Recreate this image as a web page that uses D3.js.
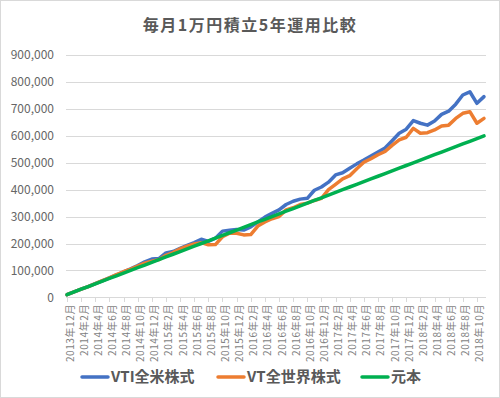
<html>
<head>
<meta charset="utf-8">
<title>毎月1万円積立5年運用比較</title>
<script src="https://cdn.jsdelivr.net/npm/d3@7"></script>
<style>
  body { margin: 0; background: #fff; }
  text { font-family: "Noto Sans CJK JP", "Noto Sans", sans-serif; fill: #595959; }
</style>
</head>
<body>
<script>
// data (yen), months 2013-12 .. 2018-11
var months = [];
for (var k = 0; k < 60; k++) {
  var m = (11 + k) % 12 + 1, y = 2013 + Math.floor((11 + k) / 12);
  months.push(y + "年" + m + "月");
}
var vti = [10,20,30,40,51,61,72,83,95,106,118,132,142,144,165,170,182,193,203,216,
           208,220,246,249,252,250,262,280,298,312,325,345,357,365,368,398,410,428,455,463,
           480,496,510,525,540,555,582,610,625,657,647,640,655,680,692,718,752,764,721,746];
var vt  = [10,20,30,40,51,62,72,84,95,105,116,127,134,140,156,166,180,190,198,203,
           195,196,225,238,238,232,233,265,280,292,300,325,333,345,350,360,368,400,420,440,
           452,478,502,515,530,542,565,585,595,628,610,612,622,637,640,665,684,690,647,665];
var principal = [10,20,30,40,50,60,70,80,90,100,110,120,130,140,150,160,170,180,190,200,
                 210,220,230,240,250,260,270,280,290,300,310,320,330,340,350,360,370,380,390,400,
                 410,420,430,440,450,460,470,480,490,500,510,520,530,540,550,560,570,580,590,600];
var seriesNames = ["VTI全米株式", "VT全世界株式", "元本"];
var seriesColors = ["#4472C4", "#ED7D31", "#00B050"];
var yTicks = [0,100000,200000,300000,400000,500000,600000,700000,800000,900000];

var w = 500, h = 398;
var svg = d3.select("body").append("svg").attr("width", w).attr("height", h);

// chart border
svg.append("rect").attr("x", 0.5).attr("y", 0.5).attr("width", w - 1).attr("height", h - 1)
   .style("fill", "#fff").style("stroke", "#d9d9d9");

// title
svg.append("text").attr("x", 250).attr("y", 31).attr("text-anchor", "middle")
   .style("font-size", "16px").style("font-weight", "bold").style("letter-spacing", "1.5px")
   .text("毎月1万円積立5年運用比較");

var x = d3.scaleLinear().domain([0, months.length - 1]).range([67, 484]);
var y = d3.scaleLinear().domain([0, 900000]).range([297.3, 55.2]);

// gridlines + y labels
svg.selectAll(".grid").data(yTicks).enter().append("line")
   .attr("x1", 66).attr("x2", 486)
   .attr("y1", function(d) { return Math.round(y(d)) + 0.5; })
   .attr("y2", function(d) { return Math.round(y(d)) + 0.5; })
   .style("stroke", "#d9d9d9").style("stroke-width", 1);

svg.selectAll(".ylab").data(yTicks).enter().append("text")
   .attr("x", 54).attr("y", function(d) { return y(d); }).attr("dy", "0.35em")
   .attr("text-anchor", "end").style("font-size", "12px").style("fill", "#666")
   .text(function(d) { return d3.format(",")(d); });

// x axis ticks and labels (every 2nd month)
var xIdx = d3.range(0, months.length, 2);
svg.selectAll(".xtick").data(xIdx).enter().append("line")
   .attr("x1", function(d) { return Math.round(x(d)) + 0.5; })
   .attr("x2", function(d) { return Math.round(x(d)) + 0.5; })
   .attr("y1", 297.5).attr("y2", 302)
   .style("stroke", "#d9d9d9");

svg.selectAll(".xlab").data(xIdx).enter().append("text")
   .attr("transform", function(d) { return "translate(" + (x(d) + 3) + ",304) rotate(-90)"; })
   .attr("dy", "0.35em").attr("text-anchor", "end")
   .style("font-size", "10px").style("letter-spacing", "0.6px").style("fill", "#7f7f7f")
   .text(function(d) { return months[d]; });

// lines
var line = d3.line().x(function(d, i) { return x(i); }).y(function(d) { return y(d * 1000); });
[vti, vt, principal].forEach(function(s, i) {
  svg.append("path").datum(s).attr("d", line)
     .style("fill", "none").style("stroke", seriesColors[i]).style("stroke-width", 3.5)
     .style("stroke-linejoin", "round").style("stroke-linecap", "round");
});

// legend
var legX = [82, 218, 362];
seriesNames.forEach(function(name, i) {
  svg.append("line").attr("x1", legX[i]).attr("x2", legX[i] + 26).attr("y1", 377).attr("y2", 377)
     .style("stroke", seriesColors[i]).style("stroke-width", 3.5).style("stroke-linecap", "round");
  svg.append("text").attr("x", legX[i] + 29).attr("y", 377).attr("dy", "0.35em")
     .style("font-size", "15px").style("font-weight", "bold").text(name);
});
</script>
</body>
</html>
